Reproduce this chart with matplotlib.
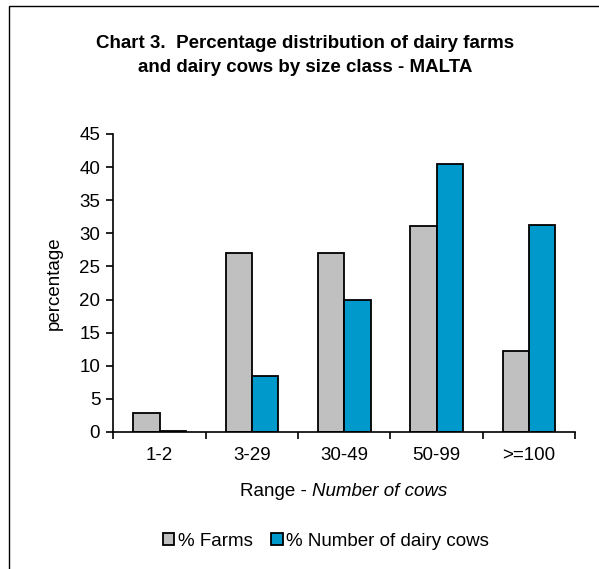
import numpy as np
import matplotlib
matplotlib.use('Agg')
import matplotlib.pyplot as plt
from matplotlib.patches import Rectangle

plt.rcParams['font.family'] = ['Liberation Sans', 'DejaVu Sans']

# data
categories = ['1-2', '3-29', '30-49', '50-99', '>=100']
farms = [2.8, 27.1, 27.1, 31.1, 12.2]
cows = [0.1, 8.4, 19.9, 40.5, 31.3]

W, H = 599, 569
fs = 13.5
fig = plt.figure(figsize=(W / 100, H / 100), dpi=100)
ax = fig.add_axes([113.4 / W, 1 - 432 / H, (575 - 113.4) / W, (432 - 134) / H])

x = np.arange(len(categories))
bw = 0.285
ax.bar(x - bw / 2, farms, bw, color='#c0c0c0', edgecolor='black', linewidth=1.3, label='% Farms')
ax.bar(x + bw / 2, cows, bw, color='#0099cc', edgecolor='black', linewidth=1.3,
       label='% Number of dairy cows')

ax.set_xlim(-0.5, len(categories) - 0.5)
ax.set_ylim(0, 45)
ax.set_yticks(range(0, 46, 5))
ax.set_xticks(np.arange(-0.5, len(categories), 1.0))
ax.set_xticklabels([])
ax.set_xticks(x, minor=True)
ax.set_xticklabels(categories, minor=True)
ax.tick_params(axis='x', which='minor', length=0, labelsize=fs, pad=11)
ax.tick_params(axis='x', which='major', length=5, width=1.2, direction='out')
ax.tick_params(axis='y', length=5, width=1.2, labelsize=fs, pad=4.5)
for s in ['top', 'right']:
    ax.spines[s].set_visible(False)
for s in ['left', 'bottom']:
    ax.spines[s].set_linewidth(1.2)

ax.set_ylabel('percentage', fontsize=fs, labelpad=12)

fig.text(0.5 + 6 / W, 1 - 43 / H, 'Chart 3.  Percentage distribution of dairy farms',
         ha='center', va='center', fontsize=fs, fontweight='bold')
fig.text(0.5 + 6 / W, 1 - 68 / H, 'and dairy cows by size class - MALTA',
         ha='center', va='center', fontsize=fs, fontweight='bold')

# x label with an italic part
fig.canvas.draw()
r = fig.canvas.get_renderer()
t1 = fig.text(0, 0, 'Range - ', fontsize=fs)
t2 = fig.text(0, 0, 'Number of cows', fontsize=fs, style='italic')
w1 = t1.get_window_extent(r).width
w2 = t2.get_window_extent(r).width
cx = 344
y_lab = 1 - 491 / H
t1.set_position(((cx - (w1 + w2) / 2) / W, y_lab))
t2.set_position(((cx - (w1 + w2) / 2 + w1) / W, y_lab))
t1.set_va('center')
t2.set_va('center')

fig.legend(loc='center', bbox_to_anchor=(326 / W, 1 - 541 / H), ncol=2, frameon=False,
           fontsize=fs, handlelength=0.6, handleheight=0.6, handletextpad=0.2,
           columnspacing=1.0)

fig.patches.append(Rectangle((8.5 / W, -0.1), 1.2, 1 - 6.5 / H + 0.1, transform=fig.transFigure,
                             fill=False, edgecolor='black', linewidth=1.0))

fig.savefig('out.png', dpi=100)
